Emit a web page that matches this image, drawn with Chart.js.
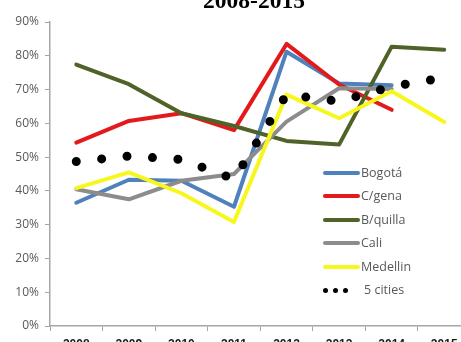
<!DOCTYPE html>
<html>
<head>
<meta charset="utf-8">
<script src="https://cdn.jsdelivr.net/npm/chart.js@4/dist/chart.umd.min.js"></script>
<style>
 html,body{margin:0;padding:0;background:#fff;}
 body{width:461px;height:342px;overflow:hidden;position:relative;}
 #titulo{position:absolute;left:0;top:-11px;width:508px;text-align:center;font:bold 23.5px "Liberation Serif","Times New Roman",serif;line-height:23.5px;color:#000;}
 #wrap{position:absolute;left:0;top:0;}
 #leyenda{position:absolute;left:0;top:0;width:461px;height:342px;font:12.5px "Open Sans",sans-serif;color:#595959;white-space:nowrap;}
 #leyenda div{position:absolute;}
 .linea{width:37px;height:4px;border-radius:2px;}
 .punto{width:5px;height:5px;border-radius:50%;background:#000;}
 .txt{line-height:16px;}
</style>
</head>
<body>
<div id="wrap"><canvas id="grafico" width="480" height="360"></canvas></div>
<div id="titulo">2008-2015</div>
<div id="leyenda"></div>
<script>
const years = ["2008","2009","2010","2011","2012","2013","2014","2015"];
const bogota   = [36.5, 43.3, 43.0, 35.3, 81.2, 71.8, 71.3, null];
const cgena    = [54.3, 60.7, 63.0, 58.0, 83.5, 71.5, 64.0, null];
const bquilla  = [77.4, 71.6, 63.0, 59.2, 54.8, 53.7, 82.7, 81.8];
const cali     = [40.5, 37.5, 43.0, 45.0, 60.5, 70.4, 70.2, null];
const medellin = [40.8, 45.5, 39.3, 30.8, 68.5, 61.5, 69.5, 60.4];
const cities5  = [48.7, 50.3, 49.3, 43.5, 68.5, 66.5, 70.9, 73.5];
const yTicks = [0,10,20,30,40,50,60,70,80,90];

const series = [
 {label:"Bogotá", data:bogota, color:"#4f81bd"},
 {label:"C/gena", data:cgena, color:"#e3191c"},
 {label:"B/quilla", data:bquilla, color:"#4f6228"},
 {label:"Cali", data:cali, color:"#8c8c8c"},
 {label:"Medellin", data:medellin, color:"#f7f71e"},
 {label:"5 cities", data:cities5, color:"#000000", dots:true}
];

const datasets = series.map((s,i) => ({
 label:s.label,
 data:s.data,
 borderColor:s.color,
 backgroundColor:s.color,
 borderWidth:s.dots ? 9 : 4,
 borderDash:s.dots ? [0,25.5] : [],
 borderCapStyle:"round",
 borderJoinStyle:"round",
 pointRadius:0,
 tension:0,
 fill:false,
 spanGaps:false,
 order:series.length - i
}));

new Chart(document.getElementById("grafico"), {
 type:"line",
 data:{labels:years, datasets:datasets},
 options:{
  responsive:false,
  animation:false,
  layout:{padding:{top:22,right:9.5,left:0,bottom:0}},
  plugins:{legend:{display:false}, tooltip:{enabled:false}, title:{display:false}},
  scales:{
   x:{
    offset:true,
    grid:{display:true, drawOnChartArea:false, offset:true, tickLength:5, color:"#a6a6a6"},
    border:{color:"#a6a6a6", width:1.5},
    ticks:{color:"#1a1a1a", font:{family:"Liberation Sans", size:12, weight:"bold"}, padding:6, maxRotation:0},
    afterFit:s => { s.height = 34; }
   },
   y:{
    min:0, max:90,
    afterBuildTicks:s => { s.ticks = yTicks.map(v => ({value:v})); },
    grid:{display:true, drawOnChartArea:false, tickLength:5, color:"#a6a6a6"},
    border:{color:"#a6a6a6", width:1.5},
    ticks:{color:"#595959", font:{family:"Open Sans", size:12}, padding:6, callback:v => v + "%"},
    afterFit:s => { s.width = 50; }
   }
  }
 }
});

// leyenda en HTML, cada fila con posicion fija
const ley = document.getElementById("leyenda");
series.forEach((s,i) => {
 const yc = 173 + i*23.4;
 if(s.dots){
  [325,335,345].forEach(x => {
   const p = document.createElement("div");
   p.className = "punto";
   p.style.left = (x-2.5)+"px"; p.style.top = (yc-2.5)+"px";
   ley.appendChild(p);
  });
 } else {
  const l = document.createElement("div");
  l.className = "linea";
  l.style.left = "323px"; l.style.top = (yc-2)+"px"; l.style.background = s.color;
  ley.appendChild(l);
 }
 const t = document.createElement("div");
 t.className = "txt";
 t.textContent = s.label;
 t.style.left = (s.dots ? 364 : 361)+"px"; t.style.top = (yc-8)+"px";
 ley.appendChild(t);
});
</script>
</body>
</html>
